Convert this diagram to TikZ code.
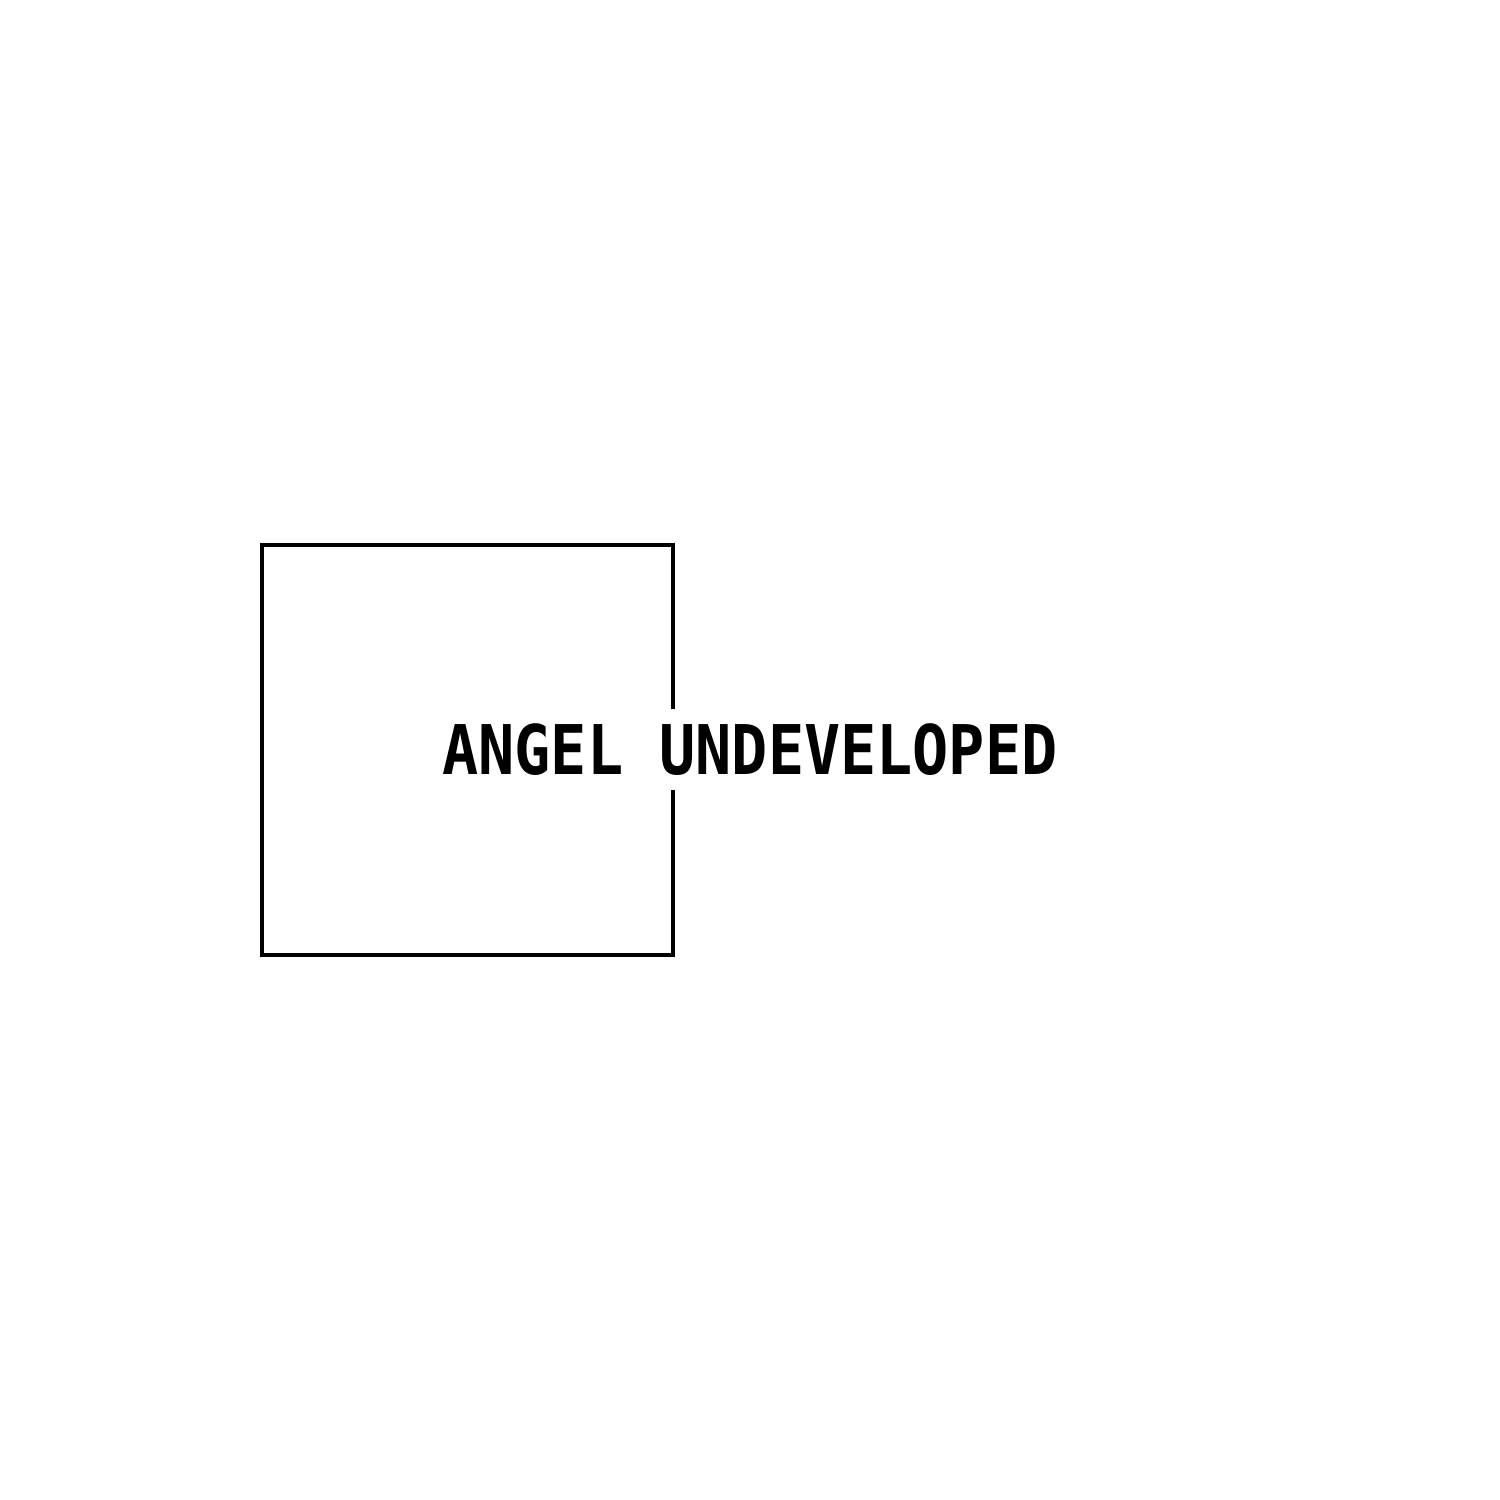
\documentclass[tikz,border=0pt]{standalone}
\usepackage{fontspec}
\usepackage{graphicx}
\newfontfamily\monof{DejaVu Sans Mono}
\begin{document}
\begin{tikzpicture}[x=1cm,y=1cm,
  boxline/.style={draw=black,line width=1.1pt},
  label/.style={fill=white,inner sep=0pt,text height=18.9pt,text depth=4.3pt,anchor=base,font=\monof\bfseries\fontsize{17.1pt}{20pt}\selectfont}]
\useasboundingbox (0,0) rectangle (15,15);
\fill[white] (0,0) rectangle (15,15);
\node[boxline,minimum width=4.11cm,minimum height=4.10cm,inner sep=0pt] (sq) at (4.675,7.5) {};
\node[label] (lbl) at (7.5,7.25) {\scalebox{1}[1.14]{ANGEL UNDEVELOPED}};
\end{tikzpicture}
\end{document}
